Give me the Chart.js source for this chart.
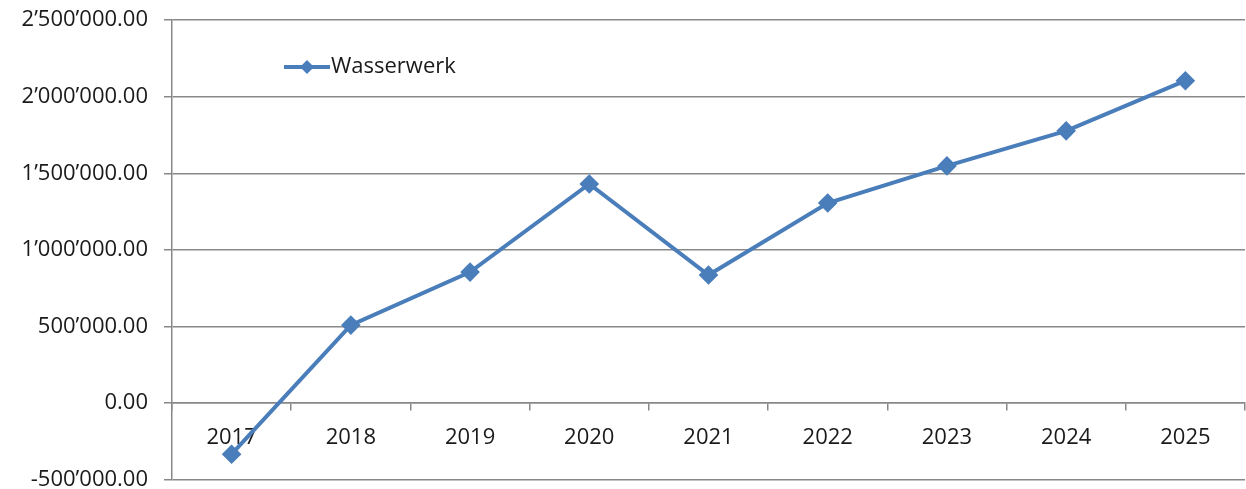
<!DOCTYPE html>
<html>
<head>
<meta charset="utf-8">
<script src="https://cdn.jsdelivr.net/npm/chart.js@4/dist/chart.umd.min.js"></script>
<style>
  html, body { margin: 0; padding: 0; background: #fff; overflow: hidden; }
  #frame { width: 1246px; height: 489px; position: relative; overflow: hidden; }
  #wrap { width: 1256px; height: 518px; position: absolute; left: 0; top: -9px; }
</style>
</head>
<body>
<div id="frame"><div id="wrap"><canvas id="chart_wasserwerk"></canvas></div></div>
<script>
const years = ['2017', '2018', '2019', '2020', '2021', '2022', '2023', '2024', '2025'];
const dataWasserwerk = [-333000, 510000, 856000, 1431000, 837000, 1307000, 1549000, 1778000, 2105000];
const seriesLabel = 'Wasserwerk';

const lineColor = '#4a7ebb';
const gridColor = '#888888';
const fontFamily = '"Open Sans", sans-serif';

function fmt(v) {
    let neg = v < 0;
    let s = Math.abs(v).toFixed(2);
    let parts = s.split('.');
    parts[0] = parts[0].replace(/\B(?=(\d{3})+(?!\d))/g, '\u2019');
    return (neg ? '-' : '') + parts[0] + '.' + parts[1];
}

// legend drawn inside the plot, like the spreadsheet one
const insideLegend = {
    id: 'insideLegend',
    afterDraw(chart) {
        const ctx = chart.ctx;
        const x0 = 284, y0 = 67 + 9;
        ctx.save();
        ctx.strokeStyle = lineColor;
        ctx.lineWidth = 4;
        ctx.beginPath();
        ctx.moveTo(x0, y0);
        ctx.lineTo(x0 + 46, y0);
        ctx.stroke();
        ctx.fillStyle = lineColor;
        ctx.beginPath();
        ctx.moveTo(x0 + 23, y0 - 7);
        ctx.lineTo(x0 + 30, y0);
        ctx.lineTo(x0 + 23, y0 + 7);
        ctx.lineTo(x0 + 16, y0);
        ctx.closePath();
        ctx.fill();
        ctx.fillStyle = '#1a1a1a';
        ctx.font = '22px ' + fontFamily;
        ctx.textBaseline = 'middle';
        ctx.fillText(seriesLabel, x0 + 47, y0);
        ctx.restore();
    }
};

let ctxWasserwerk = document.getElementById('chart_wasserwerk').getContext('2d');
let chartWasserwerk = new Chart(ctxWasserwerk, {
    type: 'line',
    data: {
        labels: years,
        datasets: [{
            label: seriesLabel,
            data: dataWasserwerk,
            borderColor: lineColor,
            backgroundColor: lineColor,
            borderWidth: 4,
            pointStyle: 'rectRot',
            pointRadius: 7,
            pointHoverRadius: 7,
            tension: 0
        }]
    },
    options: {
        responsive: true,
        maintainAspectRatio: false,
        animation: false,
        layout: { padding: { top: 10, bottom: 0, right: 0, left: 0 } },
        plugins: {
            legend: { display: false },
            tooltip: { enabled: false }
        },
        scales: {
            x: {
                position: { y: 0 },
                offset: true,
                grid: {
                    offset: true,
                    drawOnChartArea: false,
                    drawTicks: true,
                    tickLength: 7,
                    color: gridColor,
                    lineWidth: 1.5
                },
                border: { color: gridColor, width: 1.5 },
                ticks: {
                    color: '#1a1a1a',
                    font: { family: fontFamily, size: 22 },
                    padding: 14,
                    maxRotation: 0
                }
            },
            y: {
                min: -500000,
                max: 2500000,
                afterFit: function(scale) { scale.width = 172; },
                grid: {
                    color: gridColor,
                    lineWidth: 1.5,
                    tickLength: 8
                },
                border: { color: gridColor, width: 1.5 },
                ticks: {
                    stepSize: 500000,
                    color: '#1a1a1a',
                    font: { family: fontFamily, size: 22 },
                    padding: 16,
                    callback: function(val) { return fmt(val); }
                }
            }
        }
    },
    plugins: [insideLegend]
});
</script>
</body>
</html>
